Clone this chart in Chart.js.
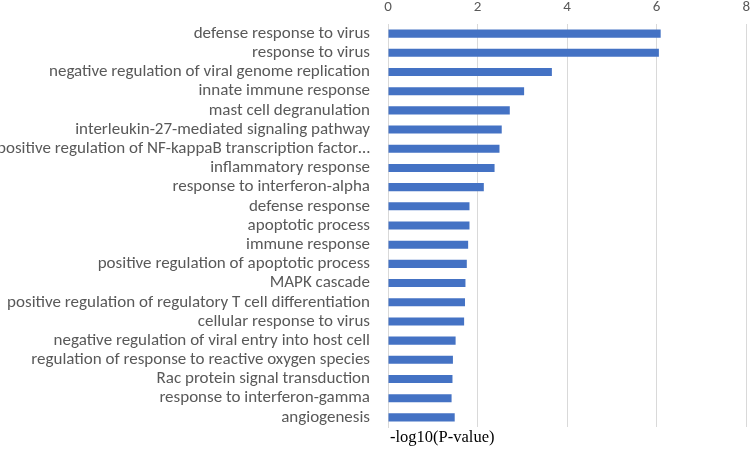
<!DOCTYPE html>
<html><head><meta charset="utf-8">
<script src="https://cdn.jsdelivr.net/npm/chart.js@4"></script>
<style>html,body{margin:0;padding:0;background:#fff;overflow:hidden}#wrap{width:758px;height:453px;position:relative}</style>
</head><body><div id="wrap"><canvas id="c"></canvas></div>
<script>
const categories = [
"defense response to virus","response to virus","negative regulation of viral genome replication","innate immune response","mast cell degranulation","interleukin-27-mediated signaling pathway","positive regulation of NF-kappaB transcription factor…","inflammatory response","response to interferon-alpha","defense response","apoptotic process","immune response","positive regulation of apoptotic process","MAPK cascade","positive regulation of regulatory T cell differentiation","cellular response to virus","negative regulation of viral entry into host cell","regulation of response to reactive oxygen species","Rac protein signal transduction","response to interferon-gamma","angiogenesis"];
const values = [6.09,6.05,3.66,3.04,2.72,2.54,2.49,2.38,2.14,1.82,1.82,1.79,1.76,1.73,1.72,1.70,1.51,1.45,1.44,1.42,1.49];
const xTicks = [0,2,4,6,8];
const axisTitle = "-log10(P-value)";

new Chart(document.getElementById('c'), {
  type:'bar',
  data:{labels:categories, datasets:[{data:values, backgroundColor:'#4472C4', borderWidth:0, barPercentage:0.42, categoryPercentage:1}]},
  options:{
    indexAxis:'y', responsive:true, maintainAspectRatio:false, animation:false,
    layout:{padding:{top:0,bottom:26,left:0,right:0}},
    plugins:{legend:{display:false},tooltip:{enabled:false}},
    scales:{
      x:{position:'top',min:0,max:8,
        afterBuildTicks:(s)=>{s.ticks=xTicks.map(v=>({value:v}));},
        afterFit:(s)=>{s.height=24;},
        grid:{color:'#d9d9d9',drawTicks:false,lineWidth:1},
        border:{display:false},
        ticks:{color:'#595959',font:{family:'Carlito, Calibri, Lato, sans-serif',size:15},padding:8},
        title:{display:false}
      },
      y:{grid:{display:false},border:{display:true,color:'#d9d9d9'},
        afterFit:(s)=>{s.width=388;},
        ticks:{color:'#595959',font:{family:'Carlito, Calibri, Lato, sans-serif',size:17},padding:10,autoSkip:false}
      }
    }
  },
  plugins:[{id:'bt',afterDraw(ch){const c=ch.ctx,a=ch.chartArea;c.save();c.font='16.5px "Liberation Serif", "Times New Roman", serif';c.fillStyle='#000';c.textAlign='left';c.textBaseline='middle';c.fillText(axisTitle,a.left+2,a.bottom+11);c.restore();}}]
});
</script></body></html>
